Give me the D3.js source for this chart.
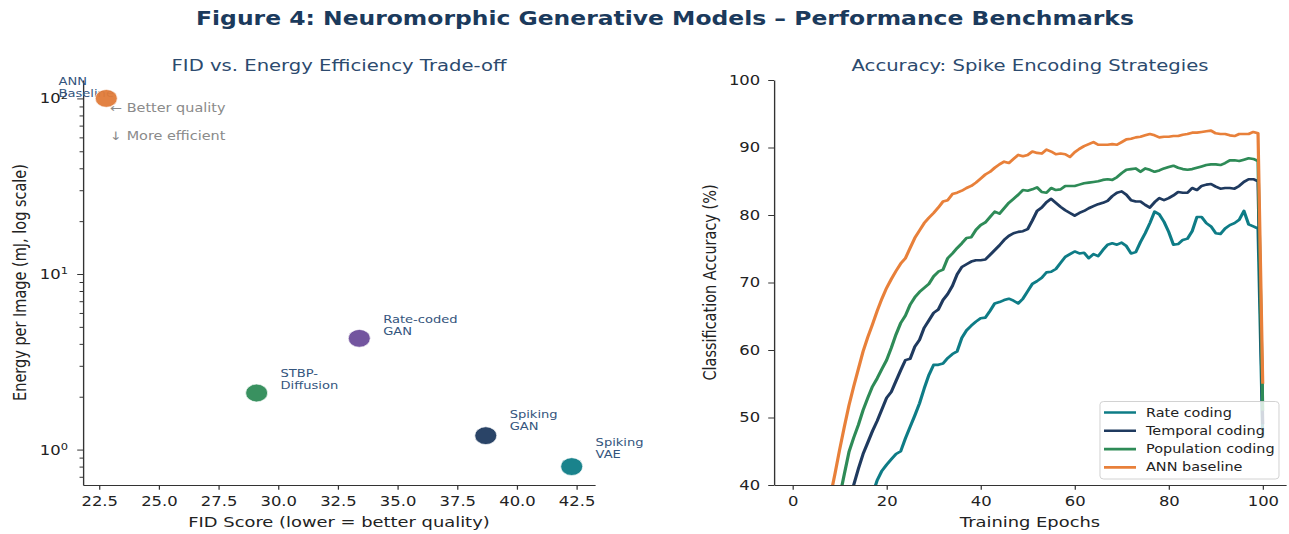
<!DOCTYPE html>
<html>
<head>
<meta charset="utf-8">
<script src="https://cdn.jsdelivr.net/npm/d3@7"></script>
<style>
  body { margin: 0; background: #fff; }
  svg { display: block; font-family: "DejaVu Sans", sans-serif; }
</style>
</head>
<body>
<div id="chart"></div>
<script>
// ---- left panel data ----
const modelNames = ["ANN\nBaseline", "Rate-coded\nGAN", "STBP-\nDiffusion", "Spiking\nGAN", "Spiking\nVAE"];
const fidScores = [22.8, 33.4, 29.1, 38.7, 42.3];
const energyMJ = [100, 4.3, 2.1, 1.2, 0.8];
const modelColors = ["#e07b39", "#6b4c9a", "#2e8b57", "#1f3a5f", "#0e7c86"];
const fidTicks = [22.5, 25.0, 27.5, 30.0, 32.5, 35.0, 37.5, 40.0, 42.5];
const energyTicks = [1, 10, 100];

// ---- right panel data ----
const epochs = d3.range(1, 101);
const rateCoding = [
  3, 6, 9, 12, 14, 17, 19, 22, 24, 26,
  28, 30, 32, 33.5, 35, 36.8, 38.6, 40.7, 42.1, 43.0,
  43.8, 44.6, 45.0, 46.9, 48.6, 50.3, 52.1, 54.3, 56.3, 57.8,
  57.8, 58.0, 58.8, 59.4, 59.8, 61.8, 62.9, 63.6, 64.2, 64.7,
  64.8, 65.8, 66.9, 67.1, 67.4, 67.6, 67.3, 66.9, 67.6, 68.7,
  69.8, 70.2, 70.7, 71.5, 71.6, 72.0, 72.9, 73.8, 74.2, 74.6,
  74.3, 74.4, 73.6, 74.2, 73.9, 74.8, 75.6, 75.8, 75.6, 75.9,
  75.4, 74.3, 74.5, 76.0, 77.3, 78.8, 80.5, 80.1, 79.0, 77.5,
  75.6, 75.7, 76.3, 76.5, 77.6, 79.7, 79.7, 78.8, 78.3, 77.3,
  77.2, 78.0, 78.5, 78.8, 79.3, 80.6, 78.6, 78.3, 78.0, 47.0
];
const temporalCoding = [
  5, 8, 11, 14, 17, 20, 23, 26, 29, 32,
  34.5, 37.0, 40.0, 42.4, 44.6, 46.3, 48.0, 49.5, 51.2, 52.9,
  53.8, 55.4, 57.0, 58.5, 58.7, 60.5, 61.5, 63.3, 64.4, 65.5,
  66.0, 67.4, 68.3, 69.5, 71.2, 72.3, 72.7, 73.1, 73.3, 73.3,
  73.4, 74.1, 74.8, 75.5, 76.3, 76.9, 77.3, 77.5, 77.6, 77.9,
  79.2, 80.6, 81.1, 81.9, 82.4, 81.8, 81.2, 80.7, 80.3, 79.9,
  80.3, 80.6, 81.0, 81.3, 81.6, 81.8, 82.1, 82.8, 83.3, 83.5,
  83.0, 82.2, 82.0, 82.0, 81.5, 81.1, 81.9, 82.5, 82.2, 82.5,
  82.9, 83.4, 83.3, 83.3, 84.0, 83.7, 84.3, 84.5, 84.6, 84.2,
  83.9, 84.0, 84.0, 83.9, 84.3, 84.9, 85.3, 85.3, 85.0, 49.0
];
const populationCoding = [
  7, 11, 14, 18, 21, 25, 29, 32, 35, 38.2,
  41.6, 44.9, 47.0, 48.9, 51.1, 52.9, 54.6, 55.8, 57.2, 58.5,
  60.3, 62.3, 64.0, 65.1, 66.7, 67.8, 68.6, 69.2, 69.8, 70.9,
  71.6, 71.9, 73.6, 74.3, 75.1, 75.8, 76.6, 76.7, 77.8, 78.5,
  78.9, 79.7, 80.5, 80.2, 81.0, 81.8, 82.4, 83.0, 83.7, 83.6,
  83.8, 84.1, 83.4, 83.3, 84.0, 83.7, 83.8, 84.3, 84.3, 84.3,
  84.5, 84.7, 84.8, 84.9, 85.0, 85.2, 85.3, 85.2, 85.6, 86.2,
  86.7, 86.8, 86.9, 86.4, 86.9, 86.7, 86.4, 86.6, 86.9, 87.1,
  87.3, 87.0, 86.8, 86.7, 86.8, 87.0, 87.2, 87.4, 87.5, 87.5,
  87.4, 87.7, 88.1, 88.1, 88.0, 88.2, 88.4, 88.3, 88.0, 51.0
];
const annBaseline = [
  10, 14, 19, 23, 27, 31, 35, 38.2, 41.6, 45.2,
  48.6, 51.8, 54.6, 57.2, 59.8, 61.9, 63.8, 65.8, 67.6, 69.2,
  70.5, 71.7, 72.8, 73.6, 75.1, 76.6, 77.7, 78.8, 79.6, 80.3,
  81.1, 82.0, 82.2, 83.1, 83.3, 83.6, 84.0, 84.3, 84.8, 85.4,
  86.0, 86.4, 87.0, 87.5, 87.9, 87.7, 88.3, 88.9, 88.7, 88.9,
  89.4, 89.2, 89.1, 89.7, 89.4, 89.0, 89.1, 89.0, 88.6, 89.3,
  89.8, 90.2, 90.5, 90.8, 90.4, 90.4, 90.4, 90.5, 90.4, 90.8,
  91.2, 91.3, 91.5, 91.6, 91.8, 92.0, 91.8, 91.5, 91.6, 91.6,
  91.7, 91.7, 91.9, 92.0, 92.2, 92.2, 92.3, 92.4, 92.5, 92.1,
  92.0, 92.0, 91.8, 91.7, 92.0, 92.0, 92.0, 92.3, 92.1, 55.0
];
const seriesNames = ["Rate coding", "Temporal coding", "Population coding", "ANN baseline"];
const seriesColors = ["#0e7c86", "#1f3a5f", "#2e8b57", "#e8803a"];
const epochTicks = [0, 20, 40, 60, 80, 100];
const accTicks = [40, 50, 60, 70, 80, 90, 100];

// ---- layout ----
// the picture is wider than tall in its glyphs: draw in a narrower box, stretch horizontally
const W = 1289, H = 534, K = 1.234;
const sx = v => v / K;
const svg = d3.select("#chart").append("svg")
  .attr("width", W).attr("height", H)
  .attr("viewBox", `0 0 ${W / K} ${H}`)
  .attr("preserveAspectRatio", "none");
svg.append("rect").attr("width", W / K).attr("height", H).attr("fill", "#fff");

const L = {x0: sx(83), x1: sx(595), y0: 80, y1: 485};
const R = {x0: sx(774), x1: sx(1286), y0: 80, y1: 485};
const tickLen = 4.7;

let styleAxis = g => {
  g.attr("font-size", null).attr("font-family", null);
  g.select(".domain").attr("stroke", "#333").attr("stroke-width", 1.1);
  g.selectAll(".tick line").attr("stroke", "#333").attr("stroke-width", 1);
  g.selectAll(".tick text").attr("fill", "#222").style("font-size", "13.3px");
};

// main title
svg.append("text")
  .attr("x", sx(665)).attr("y", 18).attr("dy", "0.35em")
  .attr("text-anchor", "middle")
  .attr("font-weight", "bold").attr("font-size", 19)
  .attr("fill", "#1b3a5c")
  .text("Figure 4: Neuromorphic Generative Models \u2013 Performance Benchmarks");

// ================= left panel =================
let fidExt = d3.extent(fidScores);
let fidPad = (fidExt[1] - fidExt[0]) * 0.05;
let x1 = d3.scaleLinear().domain([fidExt[0] - fidPad, fidExt[1] + fidPad]).range([L.x0, L.x1]);
let logExt = d3.extent(energyMJ.map(Math.log10));
let logPad = (logExt[1] - logExt[0]) * 0.05;
let y1 = d3.scaleLog()
  .domain([Math.pow(10, logExt[0] - logPad), Math.pow(10, logExt[1] + logPad)])
  .range([L.y1, L.y0]);

let gx1 = svg.append("g")
  .attr("transform", "translate(0," + L.y1 + ")")
  .call(d3.axisBottom(x1).tickValues(fidTicks).tickFormat(d3.format(".1f"))
    .tickSize(tickLen).tickPadding(7).tickSizeOuter(0));
styleAxis(gx1);

// minor ticks of the log axis
let minor = y1.ticks().filter(v => Math.abs(Math.log10(v) - Math.round(Math.log10(v))) > 1e-6);
let gy1m = svg.append("g")
  .attr("transform", "translate(" + L.x0 + ",0)")
  .call(d3.axisLeft(y1).tickValues(minor).tickFormat("").tickSize(2.8).tickSizeOuter(0));
styleAxis(gy1m);
gy1m.select(".domain").remove();

let gy1 = svg.append("g")
  .attr("transform", "translate(" + L.x0 + ",0)")
  .call(d3.axisLeft(y1).tickValues(energyTicks).tickFormat("").tickSize(tickLen).tickSizeOuter(0));
styleAxis(gy1);
gy1.selectAll(".tick text").remove();
gy1.selectAll(".tick").each(function(d) {
  let t = d3.select(this).append("text")
    .attr("x", -(tickLen + 7.5)).attr("dy", "0.34em")
    .attr("text-anchor", "end").attr("fill", "#222")
    .style("font-size", "13.3px");
  t.append("tspan").text("10");
  t.append("tspan").attr("dy", "-0.5em").style("font-size", "9.3px")
    .text(Math.round(Math.log10(d)));
});

svg.append("text")
  .attr("x", (L.x0 + L.x1) / 2).attr("y", 65).attr("dy", "0.35em")
  .attr("text-anchor", "middle").attr("font-size", 15.9).attr("fill", "#2c4a6e")
  .text("FID vs. Energy Efficiency Trade-off");
svg.append("text")
  .attr("x", (L.x0 + L.x1) / 2).attr("y", 522).attr("dy", "0.35em")
  .attr("text-anchor", "middle").attr("font-size", 14.5).attr("fill", "#222")
  .text("FID Score (lower = better quality)");
svg.append("text")
  .attr("transform", "translate(" + sx(20) + "," + (L.y0 + L.y1) / 2 + ") rotate(-90)")
  .attr("dy", "0.35em")
  .attr("text-anchor", "middle").attr("font-size", 14.5).attr("fill", "#222")
  .text("Energy per Image (mJ, log scale)");

// point labels (drawn under the markers)
let pts = modelNames.map((name, i) => ({name, fid: fidScores[i], e: energyMJ[i], color: modelColors[i], i}));
pts.forEach(d => {
  let tx = x1(d.i === 0 ? d.fid - 2 : d.fid + 1);
  let ty = y1(d.e + 0.07);
  let lines = d.name.split("\n");
  let t = svg.append("text")
    .attr("font-size", 10.6).attr("fill", "#34557d");
  lines.forEach((ln, j) => {
    t.append("tspan")
      .attr("x", tx)
      .attr("y", ty - 5.5 - (lines.length - 1 - j) * 12)
      .attr("dy", "0.35em")
      .text(ln);
  });
});

svg.append("g").selectAll("circle")
  .data(pts)
  .join("circle")
  .attr("cx", d => x1(d.fid))
  .attr("cy", d => y1(d.e))
  .attr("r", 8.9)
  .attr("fill", d => d.color)
  .attr("fill-opacity", 0.95)
  .attr("stroke", "#fff").attr("stroke-width", 0.6);

svg.append("text")
  .attr("x", sx(110)).attr("y", 108).attr("dy", "0.35em")
  .attr("font-size", 11.7).attr("fill", "#8a8a8a")
  .text("\u2190 Better quality");
svg.append("text")
  .attr("x", sx(110)).attr("y", 136).attr("dy", "0.35em")
  .attr("font-size", 11.7).attr("fill", "#8a8a8a")
  .text("\u2193 More efficient");

// ================= right panel =================
let epExt = d3.extent(epochs);
let epPad = (epExt[1] - epExt[0]) * 0.05;
let x2 = d3.scaleLinear().domain([epExt[0] - epPad, epExt[1] + epPad]).range([R.x0, R.x1]);
let y2 = d3.scaleLinear().domain([40, 100]).range([R.y1, R.y0]);

svg.append("clipPath").attr("id", "clipR")
  .append("rect")
  .attr("x", R.x0).attr("y", R.y0)
  .attr("width", R.x1 - R.x0).attr("height", R.y1 - R.y0);

let allSeries = [rateCoding, temporalCoding, populationCoding, annBaseline];
let line = d3.line()
  .x((d, i) => x2(epochs[i]))
  .y(d => y2(d));
let gLines = svg.append("g").attr("clip-path", "url(#clipR)");
allSeries.forEach((vals, k) => {
  gLines.append("path")
    .attr("d", line(vals))
    .attr("fill", "none")
    .attr("stroke", seriesColors[k])
    .attr("stroke-width", 2.6)
    .attr("stroke-linejoin", "round");
});

let gx2 = svg.append("g")
  .attr("transform", "translate(0," + R.y1 + ")")
  .call(d3.axisBottom(x2).tickValues(epochTicks).tickSize(tickLen).tickPadding(7).tickSizeOuter(0));
styleAxis(gx2);
let gy2 = svg.append("g")
  .attr("transform", "translate(" + R.x0 + ",0)")
  .call(d3.axisLeft(y2).tickValues(accTicks).tickSize(tickLen).tickPadding(6.5).tickSizeOuter(0));
styleAxis(gy2);

svg.append("text")
  .attr("x", (R.x0 + R.x1) / 2).attr("y", 65).attr("dy", "0.35em")
  .attr("text-anchor", "middle").attr("font-size", 15.9).attr("fill", "#2c4a6e")
  .text("Accuracy: Spike Encoding Strategies");
svg.append("text")
  .attr("x", (R.x0 + R.x1) / 2).attr("y", 522).attr("dy", "0.35em")
  .attr("text-anchor", "middle").attr("font-size", 14.5).attr("fill", "#222")
  .text("Training Epochs");
svg.append("text")
  .attr("transform", "translate(" + sx(710) + "," + (R.y0 + R.y1) / 2 + ") rotate(-90)")
  .attr("dy", "0.35em")
  .attr("text-anchor", "middle").attr("font-size", 14.5).attr("fill", "#222")
  .text("Classification Accuracy (%)");

// legend, lower right
let legW = sx(179), legH = 77.5;
let legX = R.x1 - sx(7) - legW, legY = R.y1 - 6 - legH;
let gLeg = svg.append("g").attr("transform", "translate(" + legX + "," + legY + ")");
gLeg.append("rect")
  .attr("width", legW).attr("height", legH).attr("rx", 3)
  .attr("fill", "#fff").attr("fill-opacity", 0.8)
  .attr("stroke", "#cccccc").attr("stroke-width", 0.8);
seriesNames.forEach((name, k) => {
  let cy = 11 + k * 18.3;
  gLeg.append("line")
    .attr("x1", sx(4)).attr("x2", sx(36)).attr("y1", cy).attr("y2", cy)
    .attr("stroke", seriesColors[k]).attr("stroke-width", 2.6);
  gLeg.append("text")
    .attr("x", sx(46)).attr("y", cy).attr("dy", "0.35em")
    .attr("font-size", 11.7).attr("fill", "#222")
    .text(name);
});
</script>
</body>
</html>
